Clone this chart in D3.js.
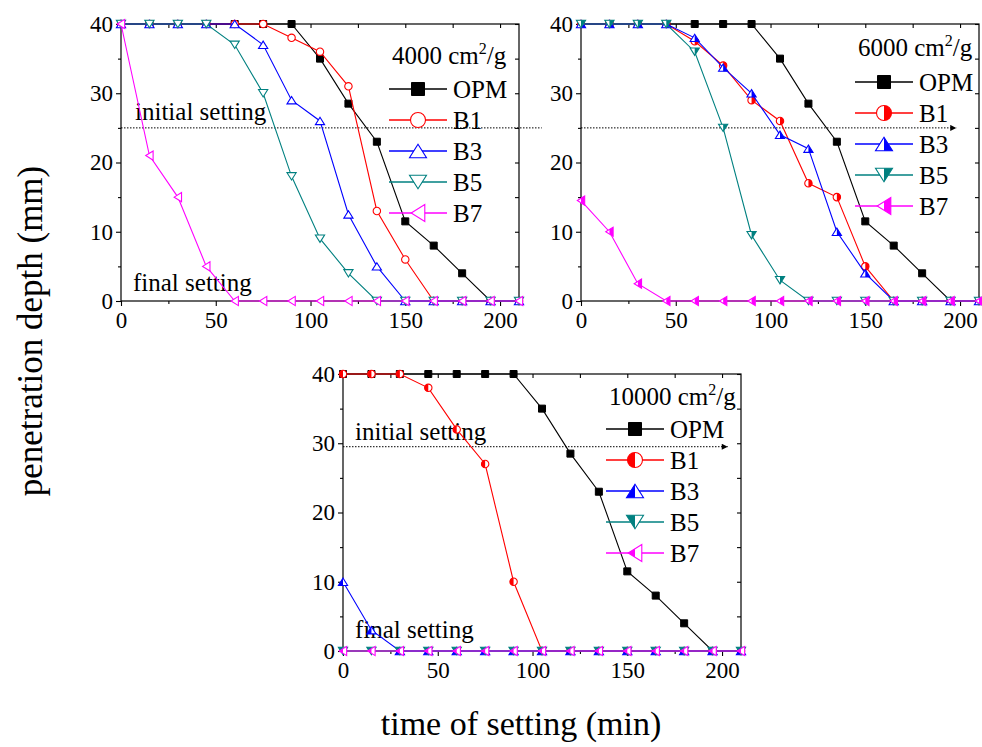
<!DOCTYPE html>
<html>
<head>
<meta charset="utf-8">
<script src="https://cdn.jsdelivr.net/npm/d3@7"></script>
<style>
  body { margin: 0; background: #fff; }
  text { font-family: "Liberation Serif", "Times New Roman", serif; fill: #000; }
</style>
</head>
<body>
<div id="chart"></div>
<script>
let w = 982;
let h = 747;

// data: sampling times (min) and penetration depth (mm)
let times = [0, 15, 30, 45, 60, 75, 90, 105, 120, 135, 150, 165, 180, 195, 210];
let seriesNames = ["OPM", "B1", "B3", "B5", "B7"];
let seriesColors = ["#000000", "#ff0000", "#0000ff", "#008080", "#ff00ff"];
let seriesShapes = ["square", "circle", "up", "down", "left"];
let xTicks = [0, 50, 100, 150, 200];
let yTicks = [0, 10, 20, 30, 40];

let opm4000 = [40, 40, 40, 40, 40, 40, 40, 35, 28.5, 23, 11.5, 8, 4, 0, 0];
let b1_4000 = [40, 40, 40, 40, 40, 40, 38, 36, 31, 13, 6, 0, 0, 0, 0];
let b3_4000 = [40, 40, 40, 40, 40, 37, 29, 26, 12.5, 5, 0, 0, 0, 0, 0];
let b5_4000 = [40, 40, 40, 40, 37, 30, 18, 9, 4, 0, 0, 0, 0, 0, 0];
let b7_4000 = [40, 21, 15, 5, 0, 0, 0, 0, 0, 0, 0, 0, 0, 0, 0];

let opm6000 = [40, 40, 40, 40, 40, 40, 40, 35, 28.5, 23, 11.5, 8, 4, 0, 0];
let b1_6000 = [40, 40, 40, 40, 37.5, 34, 29, 26, 17, 15, 5, 0, 0, 0, 0];
let b3_6000 = [40, 40, 40, 40, 38, 33.7, 30, 24, 22, 10, 4, 0, 0, 0, 0];
let b5_6000 = [40, 40, 40, 40, 36, 25, 9.5, 3, 0, 0, 0, 0, 0, 0, 0];
let b7_6000 = [14.5, 10, 2.5, 0, 0, 0, 0, 0, 0, 0, 0, 0, 0, 0, 0];

let opm10000 = [40, 40, 40, 40, 40, 40, 40, 35, 28.5, 23, 11.5, 8, 4, 0, 0];
let b1_10000 = [40, 40, 40, 38, 32, 27, 10, 0, 0, 0, 0, 0, 0, 0, 0];
let b3_10000 = [10, 3, 0, 0, 0, 0, 0, 0, 0, 0, 0, 0, 0, 0, 0];
let b5_10000 = [0, 0, 0, 0, 0, 0, 0, 0, 0, 0, 0, 0, 0, 0, 0];
let b7_10000 = [0, 0, 0, 0, 0, 0, 0, 0, 0, 0, 0, 0, 0, 0, 0];

let fineness = ["4000", "6000", "10000"];
let settingDepth = [25, 25, 29.5];

let serif = '"Liberation Serif", "Times New Roman", serif';

// layout of the three panels
let panels = [
  { data: [opm4000, b1_4000, b3_4000, b5_4000, b7_4000], half: "none",
    box: [121, 24, 519, 301], legend: [271, 40, 65], lineEnd: 222, arrow: false,
    labels: [[14, 96], [12, 267]] },
  { data: [opm6000, b1_6000, b3_6000, b5_6000, b7_6000], half: "right",
    box: [581, 24, 979, 301], legend: [277, 32, 58], lineEnd: 198, arrow: true,
    labels: null },
  { data: [opm10000, b1_10000, b3_10000, b5_10000, b7_10000], half: "left",
    box: [343, 374, 741, 651], legend: [266, 31, 55], lineEnd: 203, arrow: true,
    labels: [[12, 66], [12, 264]] }
];

let svg = d3.select("#chart").append("svg")
  .attr("width", w)
  .attr("height", h)
  .style("background", "#fff");

let defs = svg.append("defs");
defs.append("clipPath").attr("id", "halfRight")
  .append("rect").attr("x", 0).attr("y", -20).attr("width", 20).attr("height", 40);
defs.append("clipPath").attr("id", "halfLeft")
  .append("rect").attr("x", -20).attr("y", -20).attr("width", 20).attr("height", 40);
defs.append("marker").attr("id", "arrow")
  .attr("viewBox", "0 0 10 10").attr("refX", 10).attr("refY", 5)
  .attr("markerWidth", 8).attr("markerHeight", 6).attr("markerUnits", "userSpaceOnUse")
  .attr("orient", "auto")
  .append("path").attr("d", "M0,0L10,5L0,10Z").attr("fill", "#000");

function shapePath(shape, s) {
  let t = s * 0.8;
  if (shape == "square") return `M${-s},${-s}H${s}V${s}H${-s}Z`;
  if (shape == "circle") return `M${-s},0A${s},${s} 0 1,0 ${s},0A${s},${s} 0 1,0 ${-s},0Z`;
  if (shape == "up") return `M0,${-t}L${s},${t}L${-s},${t}Z`;
  if (shape == "down") return `M0,${t}L${s},${-t}L${-s},${-t}Z`;
  if (shape == "left") return `M${-t},0L${t},${-s}L${t},${s}Z`;
}

function drawMarker(g, shape, color, half, s) {
  let d = shapePath(shape, s);
  if (shape == "square") {
    g.append("path").attr("d", d).attr("fill", color).attr("stroke", color).attr("stroke-width", 1);
    return;
  }
  g.append("path").attr("d", d).attr("fill", "#fff");
  if (half != "none") {
    g.append("path").attr("d", d).attr("fill", color)
      .attr("clip-path", half == "right" ? "url(#halfRight)" : "url(#halfLeft)");
  }
  g.append("path").attr("d", d).attr("fill", "none").attr("stroke", color).attr("stroke-width", 1.1);
}

panels.forEach((p, pi) => {
  let [x0, y0, x1, y1] = p.box;
  let x = d3.scaleLinear().domain([0, 210]).range([x0, x1]);
  let y = d3.scaleLinear().domain([0, 40]).range([y1, y0]);
  let g = svg.append("g");

  // axes
  g.append("g").attr("transform", `translate(0,${y1})`)
    .call(d3.axisBottom(x).tickValues(d3.range(25, 210, 50)).tickSize(3).tickFormat(""));
  g.append("g").attr("transform", `translate(0,${y1})`)
    .call(d3.axisBottom(x).tickValues(xTicks).tickSize(5).tickPadding(6));
  g.append("g").attr("transform", `translate(${x0},0)`)
    .call(d3.axisLeft(y).tickValues(d3.range(5, 40, 10)).tickSize(3).tickFormat(""));
  g.append("g").attr("transform", `translate(${x0},0)`)
    .call(d3.axisLeft(y).tickValues(yTicks).tickSize(5).tickPadding(3));
  g.append("g").attr("transform", `translate(0,${y0})`)
    .call(d3.axisTop(x).tickValues(d3.range(0, 211, 25)).tickSize(-4).tickFormat(""));
  g.append("g").attr("transform", `translate(${x1},0)`)
    .call(d3.axisRight(y).tickValues(d3.range(0, 41, 5)).tickSize(-4).tickFormat(""));
  g.selectAll(".domain").remove();
  g.selectAll("g").attr("font-family", serif);
  g.selectAll(".tick line").attr("stroke", "#000").attr("stroke-width", 1.1);
  g.selectAll(".tick text").attr("font-size", 23).style("font-family", serif);
  g.append("rect").attr("x", x0).attr("y", y0).attr("width", x1 - x0).attr("height", y1 - y0)
    .attr("fill", "none").attr("stroke", "#000").attr("stroke-width", 1.2);

  // setting line
  g.append("line")
    .attr("x1", x(0)).attr("x2", x(p.lineEnd))
    .attr("y1", y(settingDepth[pi])).attr("y2", y(settingDepth[pi]))
    .attr("stroke", "#000").attr("stroke-width", 1).attr("stroke-dasharray", "1.5,1.5")
    .attr("marker-end", p.arrow ? "url(#arrow)" : null);

  if (p.labels) {
    g.append("text").attr("x", x0 + p.labels[0][0]).attr("y", y0 + p.labels[0][1])
      .attr("font-size", 25).text("initial setting");
    g.append("text").attr("x", x0 + p.labels[1][0]).attr("y", y0 + p.labels[1][1])
      .attr("font-size", 25).text("final setting");
  }

  // series
  let line = d3.line().x((d, i) => x(times[i])).y(d => y(d));
  p.data.forEach((vals, si) => {
    let sg = g.append("g");
    sg.append("path").attr("d", line(vals)).attr("fill", "none")
      .attr("stroke", seriesColors[si]).attr("stroke-width", 1.1);
    vals.forEach((v, i) => {
      let mg = sg.append("g").attr("transform", `translate(${x(times[i])},${y(v)})`);
      let s = seriesShapes[si] == "square" ? 3.5 : (seriesShapes[si] == "circle" ? 3.7 : 4.6);
      drawMarker(mg, seriesShapes[si], seriesColors[si], p.half, s);
    });
  });

  // legend
  let [lx, ly, lr] = p.legend;
  let t = g.append("text").attr("x", x0 + lx).attr("y", y0 + ly).attr("font-size", 25);
  t.append("tspan").text(fineness[pi] + " cm");
  t.append("tspan").attr("dy", -10).attr("font-size", 16).text("2");
  t.append("tspan").attr("dy", 10).text("/g");

  seriesNames.forEach((name, si) => {
    let ry = y0 + lr + si * 31;
    g.append("line").attr("x1", x0 + lx - 3).attr("x2", x0 + lx + 55)
      .attr("y1", ry).attr("y2", ry)
      .attr("stroke", seriesColors[si]).attr("stroke-width", 1.3);
    let mg = g.append("g").attr("transform", `translate(${x0 + lx + 26},${ry})`);
    let s = seriesShapes[si] == "square" ? 6.5 : (seriesShapes[si] == "circle" ? 7.5 : 8.5);
    drawMarker(mg, seriesShapes[si], seriesColors[si], p.half, s);
    g.append("text").attr("x", x0 + lx + 61).attr("y", ry).attr("dy", "0.35em")
      .attr("font-size", 25).text(name);
  });
});

// axis titles
svg.append("text")
  .attr("transform", "translate(42,331) rotate(-90)")
  .attr("text-anchor", "middle")
  .attr("font-size", 35)
  .text("penetration depth (mm)");

svg.append("text")
  .attr("x", 521).attr("y", 735)
  .attr("text-anchor", "middle")
  .attr("font-size", 34)
  .text("time of setting (min)");
</script>
</body>
</html>
